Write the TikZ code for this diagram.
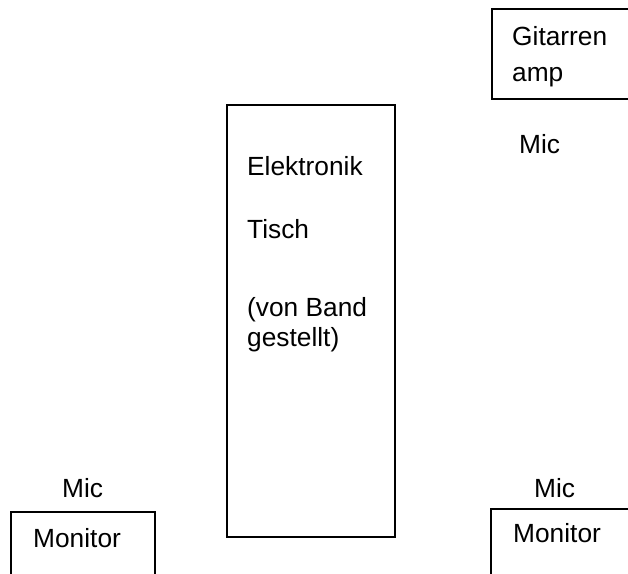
\documentclass[tikz,border=0pt]{standalone}
\usepackage{fontspec}
\setmainfont{Liberation Sans}
\begin{document}
\begin{tikzpicture}[x=1pt,y=-1pt,
  box/.style={draw=black,line width=1.3pt},
  lbl/.style={inner sep=0pt,anchor=base west,font=\fontsize{26.3}{31}\selectfont}]
\useasboundingbox (0,0) rectangle (628,573);
\clip (0,0) rectangle (628,573);
% boxes
\draw[box] (492,9) rectangle (640,99);
\draw[box] (227,105) rectangle (395,537);
\draw[box] (11,512) rectangle (155,590);
\draw[box] (491,509) rectangle (640,590);
% texts
\node[lbl] (g1) at (512,45) {Gitarren};
\node[lbl] (g2) at (512,81) {amp};
\node[lbl] (mic1) at (519,153) {Mic};
\node[lbl] (e1) at (247,175) {Elektronik};
\node[lbl] (e2) at (247,238) {Tisch};
\node[lbl] (e3) at (247,316) {(von Band};
\node[lbl] (e4) at (247,346) {gestellt)};
\node[lbl] (mic2) at (62,497) {Mic};
\node[lbl] (mon1) at (33,547) {Monitor};
\node[lbl] (mic3) at (534,497) {Mic};
\node[lbl] (mon2) at (513,542) {Monitor};
\end{tikzpicture}
\end{document}
